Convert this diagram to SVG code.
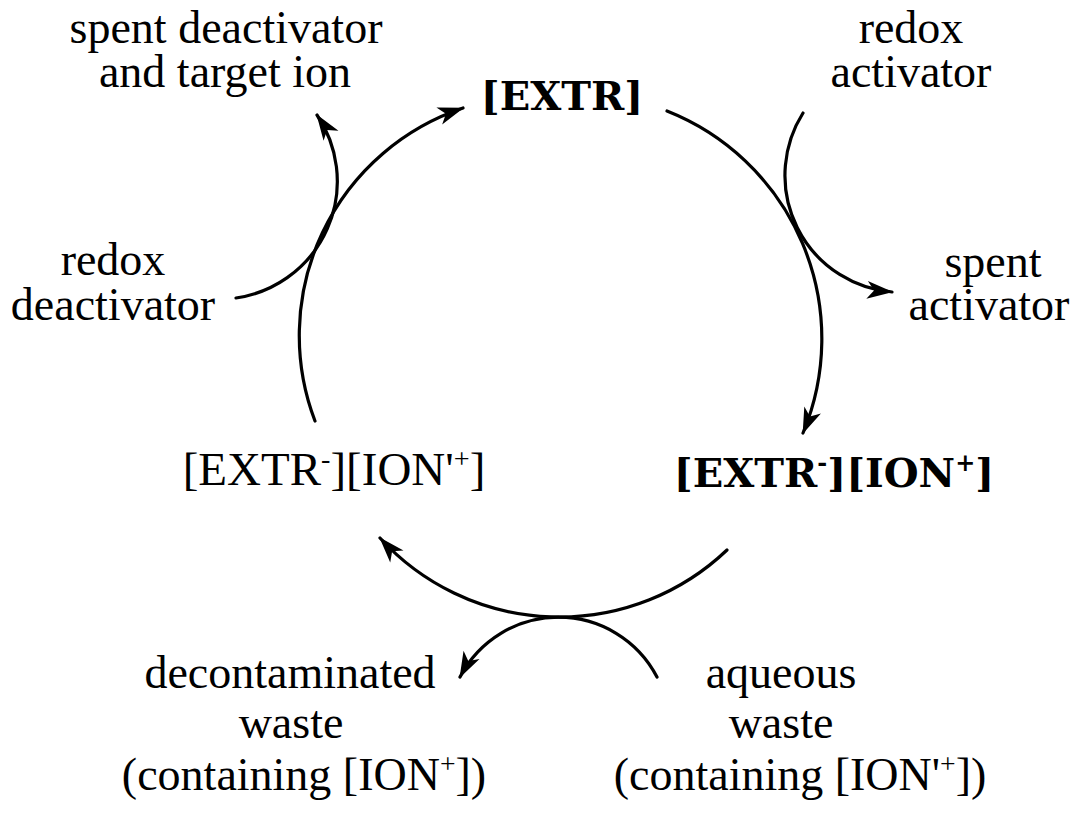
<svg xmlns="http://www.w3.org/2000/svg" width="1077" height="817" viewBox="0 0 1077 817">
  <style>
    .t { font-family: "Liberation Serif", "Times New Roman", serif; font-size: 46px; fill: #000; text-anchor: middle; }
    .big { font-family: "Liberation Serif", "Times New Roman", serif; font-size: 47px; fill: #000; text-anchor: middle; }
    .b { font-family: "DejaVu Serif", "Liberation Serif", serif; font-weight: bold; font-size: 40px; fill: #000; text-anchor: middle; }
    .sup { font-size: 60%; }
    .arc { fill: none; stroke: #000; stroke-width: 3.2; stroke-linecap: round; }
  </style>
  <defs>
    <marker id="head" markerUnits="userSpaceOnUse" markerWidth="34" markerHeight="30" viewBox="-30 -12 34 24" refX="0" refY="0" orient="auto">
      <path d="M1,0 L-25,-9 L-18,0 L-25,9 Z" fill="#000"/>
    </marker>
  </defs>
  <rect width="1077" height="817" fill="#fff"/>

  <!-- cycle arcs and side streams -->
  <g id="connectors">
    <path class="arc" d="M667,111 A245,245 0 0 1 803,433" marker-end="url(#head)"/>
    <path class="arc" d="M727,550 A243,243 0 0 1 380,538" marker-end="url(#head)"/>
    <path class="arc" d="M315,421 A240,240 0 0 1 463,108" marker-end="url(#head)"/>
    <path class="arc" d="M236,298 A118,118 0 0 0 317,115" marker-end="url(#head)"/>
    <path class="arc" d="M803,113 A117,117 0 0 0 892,292" marker-end="url(#head)"/>
    <path class="arc" d="M657,677 A111,111 0 0 0 460,677" marker-end="url(#head)"/>
  </g>

  <g id="extr">
    <text class="b" x="562" y="110">[EXTR]</text>
  </g>

  <g id="extr-ion">
    <text class="b" x="834" y="487">[EXTR<tspan class="sup" dy="-16">-</tspan><tspan dy="16">][ION</tspan><tspan class="sup" dy="-16">+</tspan><tspan dy="16">]</tspan></text>
  </g>

  <g id="extr-ion-prime">
    <text class="big" x="334" y="485">[EXTR<tspan class="sup" dy="-17">-</tspan><tspan dy="17">][ION'</tspan><tspan class="sup" dy="-17">+</tspan><tspan dy="17">]</tspan></text>
  </g>

  <g id="spent-deactivator">
    <text class="t" x="226" y="43">spent deactivator</text>
    <text class="t" x="225" y="87">and target ion</text>
  </g>

  <g id="redox-activator">
    <text class="t" x="911" y="43">redox</text>
    <text class="t" x="911" y="87">activator</text>
  </g>

  <g id="redox-deactivator">
    <text class="t" x="113" y="275">redox</text>
    <text class="t" x="113" y="320">deactivator</text>
  </g>

  <g id="spent-activator">
    <text class="t" x="993" y="277">spent</text>
    <text class="t" x="989" y="320">activator</text>
  </g>

  <g id="decontaminated-waste">
    <text class="t" x="290" y="688">decontaminated</text>
    <text class="t" x="291" y="738">waste</text>
    <text class="t" x="304" y="790">(containing [ION<tspan class="sup" dy="-17">+</tspan><tspan dy="17">])</tspan></text>
  </g>

  <g id="aqueous-waste">
    <text class="t" x="781" y="688">aqueous</text>
    <text class="t" x="781" y="738">waste</text>
    <text class="t" x="800" y="790">(containing [ION'<tspan class="sup" dy="-17">+</tspan><tspan dy="17">])</tspan></text>
  </g>
</svg>
